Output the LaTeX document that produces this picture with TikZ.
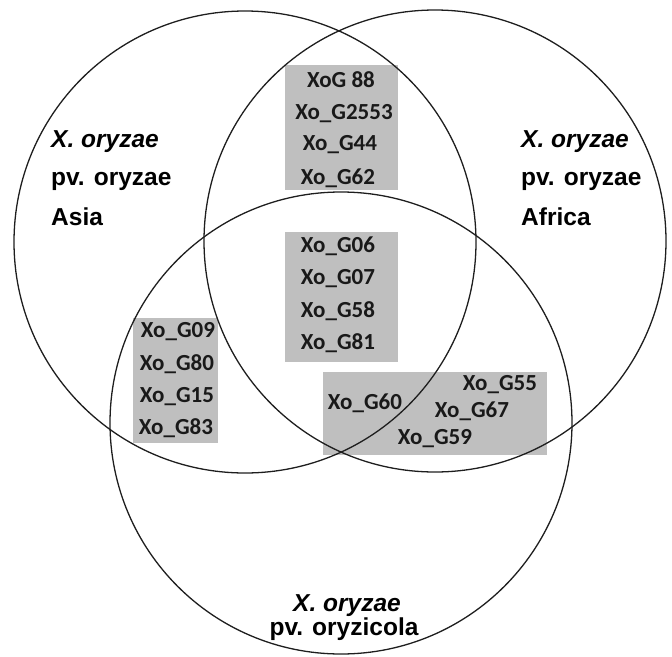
\documentclass[tikz,border=0pt]{standalone}
\usepackage{fontspec}
\setmainfont{Liberation Sans}
\newfontfamily\calfont{Carlito}
\definecolor{boxgray}{RGB}{191,191,191}
\definecolor{ringcol}{RGB}{30,30,30}
\tikzset{
  ring/.style={draw=ringcol, line width=1.3pt},
  graybox/.style={fill=boxgray},
  lab/.style={font=\fontsize{24.5}{21}\selectfont\bfseries, inner sep=0pt},
  gene/.style={font=\fontsize{23}{26}\selectfont\calfont\bfseries, inner sep=0pt, anchor=base, text=black!90}
}
\begin{document}
\begin{tikzpicture}[x=1pt,y=-1pt]
\useasboundingbox (0,0) rectangle (672,656);
% gray boxes
\fill[graybox] (285,65) rectangle (398,190);
\fill[graybox] (285,232) rectangle (398,362);
\fill[graybox] (133,318) rectangle (218,443);
\fill[graybox] (323,372) rectangle (547,455);
% circles
\draw[ring] (245,242) circle[radius=231];
\draw[ring] (435,241) circle[radius=231];
\draw[ring] (341,423) circle[radius=231];
% set labels
\node[lab, anchor=base west] (asia1) at (51,147) {\itshape X. oryzae};
\node[lab, anchor=base west] (asia2) at (51,185) {pv. oryzae};
\node[lab, anchor=base west] (asia3) at (51,225) {Asia};
\node[lab, anchor=base west] (afr1) at (521,147) {\itshape X. oryzae};
\node[lab, anchor=base west] (afr2) at (521,185) {pv. oryzae};
\node[lab, anchor=base west] (afr3) at (521,225) {Africa};
\node[lab, anchor=base, align=center] (ozc) at (344,635) {\hspace*{6pt}\itshape X. oryzae\\pv. oryzicola};
% top box
\node[gene] (g88) at (341,87) {XoG 88};
\node[gene] (g2553) at (344,119) {Xo\_G2553};
\node[gene] (g44) at (340,150) {Xo\_G44};
\node[gene] (g62) at (338,184) {Xo\_G62};
% centre box
\node[gene] (g06) at (338,252) {Xo\_G06};
\node[gene] (g07) at (338,284) {Xo\_G07};
\node[gene] (g58) at (338,317) {Xo\_G58};
\node[gene] (g81) at (338,349) {Xo\_G81};
% left box
\node[gene] (g09) at (178,337) {Xo\_G09};
\node[gene] (g80) at (177,370) {Xo\_G80};
\node[gene] (g15) at (177,402) {Xo\_G15};
\node[gene] (g83) at (176,434) {Xo\_G83};
% right box
\node[gene] (g55) at (500,390) {Xo\_G55};
\node[gene] (g67) at (472,417) {Xo\_G67};
\node[gene] (g59) at (435,444) {Xo\_G59};
\node[gene] (g60) at (365,409) {Xo\_G60};
\end{tikzpicture}
\end{document}
